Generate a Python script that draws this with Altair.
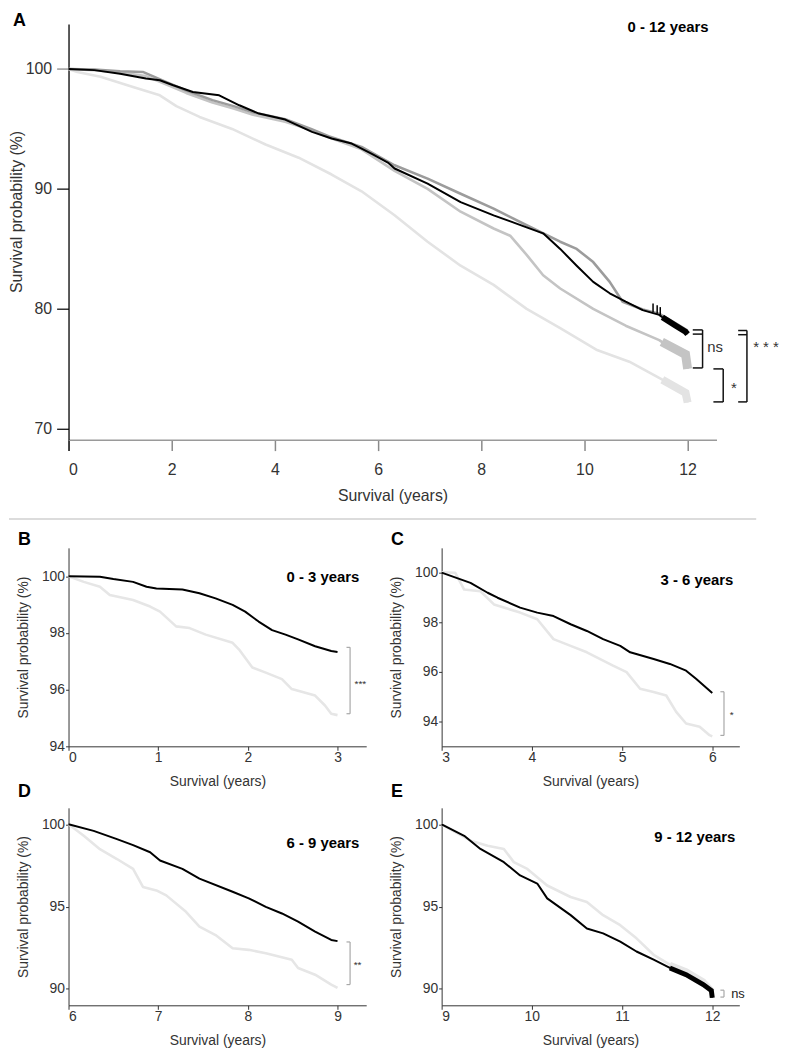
import altair as alt
import pandas as pd

FONT = "Liberation Sans"
TXT = "#333333"

# ---------------- data ----------------
# Panel A, 0-12 years, four groups
a_black_t = [0, 0.5, 1.0, 1.5, 1.77, 2.03, 2.41, 2.92, 3.31, 3.69, 4.2, 4.72, 5.1, 5.49, 5.87, 6.19,
             6.32, 6.96, 7.6, 8.24, 8.88, 9.2, 9.53, 9.85, 10.17, 10.49, 10.8, 11.13, 11.45, 11.51,
             11.77, 11.96, 12.0]
a_black_v = [100, 99.9, 99.6, 99.2, 99.06, 98.64, 98.08, 97.8, 96.97, 96.28, 95.78, 94.75, 94.2, 93.78,
             92.94, 92.2, 91.7, 90.44, 88.9, 87.8, 86.8, 86.3, 85.0, 83.6, 82.25, 81.3, 80.6, 79.9,
             79.5, 79.3, 78.6, 78.1, 77.9]

a_dark_t = [0, 0.5, 1.0, 1.44, 1.9, 2.28, 2.79, 3.2, 3.56, 4.2, 4.7, 5.04, 5.68, 6.32, 6.96, 7.6,
            8.24, 8.88, 9.53, 9.85, 10.17, 10.49, 10.74, 11.13, 11.45, 11.51, 11.77, 12.0]
a_dark_v = [100, 99.95, 99.8, 99.75, 98.9, 98.2, 97.4, 96.9, 96.4, 95.8, 95.0, 94.4, 93.5, 91.97,
            90.86, 89.6, 88.36, 86.97, 85.6, 85.0, 83.9, 82.25, 80.6, 79.95, 79.6, 79.45, 78.8, 78.2]

a_mid_t = [0, 0.5, 1.0, 1.5, 1.9, 2.28, 2.79, 3.2, 3.56, 4.2, 4.7, 5.04, 5.68, 6.32, 6.96, 7.6,
           8.24, 8.56, 8.88, 9.2, 9.53, 10.17, 10.8, 11.45, 11.5, 11.96, 12.0]
a_mid_v = [100, 99.9, 99.7, 99.4, 98.7, 98.0, 97.2, 96.7, 96.2, 95.6, 94.9, 94.3, 93.3, 91.5, 90.0,
           88.1, 86.7, 86.1, 84.5, 82.8, 81.7, 80.0, 78.6, 77.4, 77.25, 76.2, 75.0]

a_light_t = [0, 0.17, 0.62, 1.25, 1.77, 2.09, 2.54, 3.17, 3.82, 4.46, 5.1, 5.68, 6.32, 6.96, 7.6,
             8.24, 8.88, 9.53, 10.23, 10.87, 11.51, 11.96, 12.0]
a_light_v = [100, 99.75, 99.35, 98.5, 97.8, 96.9, 96.0, 95.0, 93.7, 92.6, 91.2, 89.8, 87.8, 85.6,
             83.6, 82.0, 80.0, 78.4, 76.6, 75.6, 74.1, 73.0, 72.2]

a_censor_t = [11.33, 11.41, 11.47]
a_censor_v = [79.75, 79.6, 79.45]

# Panel B, 0-3 years
b_black_t = [0, 0.35, 0.5, 0.72, 0.87, 0.98, 1.27, 1.46, 1.64, 1.83, 1.97, 2.12, 2.27, 2.42, 2.56,
             2.75, 2.93, 3.0]
b_black_v = [100, 99.98, 99.9, 99.8, 99.63, 99.57, 99.53, 99.4, 99.22, 98.99, 98.75, 98.4, 98.1,
             97.94, 97.77, 97.53, 97.36, 97.33]
b_light_t = [0, 0.17, 0.35, 0.46, 0.72, 0.91, 1.02, 1.2, 1.35, 1.53, 1.83, 1.9, 2.05, 2.2, 2.38,
             2.49, 2.75, 2.86, 2.93, 3.0]
b_light_v = [100, 99.8, 99.63, 99.34, 99.16, 98.93, 98.75, 98.23, 98.17, 97.94, 97.65, 97.42, 96.78,
             96.6, 96.37, 96.02, 95.79, 95.44, 95.15, 95.1]

# Panel C, 3-6 years
c_black_t = [3, 3.32, 3.51, 3.62, 3.87, 4.06, 4.24, 4.43, 4.61, 4.79, 4.98, 5.09, 5.35, 5.53, 5.71,
             5.82, 6.0]
c_black_v = [100, 99.59, 99.19, 98.99, 98.59, 98.39, 98.25, 97.92, 97.65, 97.32, 97.05, 96.79, 96.52,
             96.32, 96.05, 95.72, 95.15]
c_light_t = [3, 3.15, 3.25, 3.43, 3.58, 3.87, 4.06, 4.24, 4.43, 4.61, 4.9, 5.05, 5.2, 5.35, 5.49,
             5.6, 5.71, 5.86, 5.97, 6.0]
c_light_v = [100.02, 100.0, 99.32, 99.25, 98.72, 98.39, 98.12, 97.32, 97.05, 96.79, 96.25, 95.99,
             95.32, 95.19, 95.05, 94.39, 93.92, 93.79, 93.45, 93.4]

# Panel D, 6-9 years
d_black_t = [6, 6.28, 6.54, 6.72, 6.91, 7.02, 7.27, 7.46, 7.83, 8.01, 8.2, 8.38, 8.56, 8.75, 8.93, 9.0]
d_black_v = [100, 99.6, 99.1, 98.73, 98.3, 97.8, 97.29, 96.7, 95.9, 95.5, 94.98, 94.58, 94.08, 93.48,
             92.97, 92.9]
d_light_t = [6, 6.17, 6.35, 6.54, 6.72, 6.83, 6.98, 7.09, 7.31, 7.46, 7.64, 7.83, 8.01, 8.2, 8.49,
             8.56, 8.75, 8.93, 9.0]
d_light_v = [100, 99.3, 98.49, 97.89, 97.29, 96.19, 95.98, 95.68, 94.68, 93.78, 93.27, 92.47, 92.37,
             92.17, 91.77, 91.27, 90.86, 90.26, 90.06]

# Panel E, 9-12 years
e_black_t = [9, 9.25, 9.43, 9.69, 9.87, 10.06, 10.17, 10.43, 10.61, 10.79, 10.98, 11.16, 11.35, 11.53,
             11.71, 11.9, 11.99, 12.0]
e_black_v = [100, 99.3, 98.5, 97.7, 96.89, 96.4, 95.5, 94.48, 93.67, 93.37, 92.87, 92.27, 91.77,
             91.27, 90.86, 90.26, 89.9, 89.46]
e_light_t = [9, 9.32, 9.51, 9.69, 9.8, 9.95, 10.17, 10.43, 10.61, 10.79, 10.98, 11.16, 11.35, 11.53,
             11.71, 11.9, 12.0]
e_light_v = [100, 99.0, 98.7, 98.5, 97.7, 97.29, 96.28, 95.58, 95.28, 94.48, 93.87, 93.07, 92.07,
             91.47, 91.07, 90.46, 89.86]

# significance brackets (data units) and labels
a_br = dict(t=[12.29, 12.1, 12.1, 12.1, 12.69, 12.5, 12.5, 13.15, 12.98, 12.98, 12.98],
            t2=[12.29, 12.29, 12.29, 12.29, 12.69, 12.69, 12.69, 13.15, 13.15, 13.15, 13.15],
            v=[78.25, 78.25, 77.9, 75.08, 75.0, 75.0, 72.25, 78.2, 78.2, 77.85, 72.25],
            v2=[75.08, 78.25, 77.9, 75.08, 72.25, 75.0, 72.25, 72.25, 78.2, 77.85, 72.25])
a_sig = dict(t=[12.38, 12.84, 13.27], v=[76.8, 73.4, 76.85], s=["ns", "*", "* * *"])

b_br = dict(t=[3.14, 3.1, 3.1], t2=[3.14, 3.14, 3.14], v=[97.49, 97.49, 95.15], v2=[95.15, 97.49, 95.15])
b_sig = dict(t=[3.19], v=[96.2], s=["***"])
c_br = dict(t=[6.13, 6.09, 6.09], t2=[6.13, 6.13, 6.13], v=[95.2, 95.2, 93.44], v2=[93.44, 95.2, 93.44])
c_sig = dict(t=[6.195], v=[94.28], s=["*"])
d_br = dict(t=[9.14, 9.1, 9.1], t2=[9.14, 9.14, 9.14], v=[92.85, 92.85, 90.26], v2=[90.26, 92.85, 90.26])
d_sig = dict(t=[9.18], v=[91.46], s=["**"])
e_br = dict(t=[12.13, 12.09, 12.09], t2=[12.13, 12.13, 12.13], v=[89.92, 89.92, 89.5], v2=[89.5, 89.92, 89.5])
e_sig = dict(t=[12.21], v=[89.7], s=["ns"])


# ---------------- helpers ----------------
def enc(xdom, ydom, xaxis, yaxis):
    x = alt.X("t:Q", scale=alt.Scale(domain=xdom, nice=False, zero=False), axis=xaxis)
    y = alt.Y("v:Q", scale=alt.Scale(domain=ydom, nice=False, zero=False), axis=yaxis)
    return x, y


def curve_layers(t, v, color, width, band_from=None, band_width=None, x=None, y=None):
    df = pd.DataFrame({"t": t, "v": v})
    base = alt.Chart(df).encode(x=x, y=y)
    out = [base.mark_line(color=color, strokeWidth=width, strokeJoin="round")]
    if band_from is not None:
        out.append(base.transform_filter(alt.datum.t >= band_from)
                   .mark_line(color=color, strokeWidth=band_width, strokeCap="butt"))
    return out


def bracket_layer(br, color, width, x, y):
    df = pd.DataFrame(br)
    return alt.Chart(df).mark_rule(color=color, strokeWidth=width).encode(
        x=x, x2=alt.X2("t2:Q"), y=y, y2=alt.Y2("v2:Q"))


def sig_layer(sig, size, x, y, color=TXT, weight="normal"):
    df = pd.DataFrame(sig)
    return alt.Chart(df).mark_text(align="left", baseline="middle", fontSize=size, font=FONT,
                                   color=color, fontWeight=weight).encode(x=x, y=y, text="s:N")


def pix_text(txt, px, py, size, align="left", weight="bold", baseline="alphabetic"):
    return alt.Chart(pd.DataFrame({"s": [txt]})).mark_text(
        align=align, baseline=baseline, fontSize=size, fontWeight=weight, font=FONT,
        color="#000000").encode(text="s:N", x=alt.value(px), y=alt.value(py))


# ---------------- panel A ----------------
xA_axis = alt.Axis(values=[0, 2, 4, 6, 8, 10, 12], title="Survival (years)", grid=False,
                   domainColor="#9a9a9a", domainWidth=1.5,
                   tickColor={"condition": {"test": "datum.value === 0", "value": "#000000"},
                              "value": "#8a8a8a"},
                   tickWidth=1.5, tickSize=11, labelFontSize=16, labelPadding=11, labelColor=TXT,
                   labelFont=FONT, titleFont=FONT, titleFontSize=16, titleFontWeight="normal",
                   titleColor=TXT, titleY=61, titleBaseline="alphabetic")
yA_axis = alt.Axis(values=[70, 80, 90, 100], title="Survival probability (%)", grid=False,
                   domainColor="#000000", domainWidth=1.3,
                   tickColor={"condition": {"test": "datum.value === 100", "value": "#8a8a8a"},
                              "value": "#111111"},
                   tickWidth=1.3, tickSize=12, labelFontSize=16, labelPadding=5, labelColor=TXT,
                   labelFont=FONT, titleFont=FONT, titleFontSize=16, titleFontWeight="normal",
                   titleColor=TXT, titleX=-52, titleY=189, titleBaseline="middle")
xA, yA = enc([0, 12.56], [69.1, 103.75], xA_axis, yA_axis)

a_layers = []
a_layers += curve_layers(a_light_t, a_light_v, "#e3e3e3", 2.6, 11.5, 8, xA, yA)
a_layers += curve_layers(a_mid_t, a_mid_v, "#c4c4c4", 2.6, 11.5, 9, xA, yA)
a_layers += curve_layers(a_dark_t, a_dark_v, "#9c9c9c", 2.6, None, None, xA, yA)
a_layers += curve_layers(a_black_t, a_black_v, "#000000", 2.0, 11.5, 6, xA, yA)
a_cens = alt.Chart(pd.DataFrame({"t": a_censor_t, "v": a_censor_v})).transform_calculate(
    v2="datum.v + 0.7").mark_rule(color="#000000", strokeWidth=1.5).encode(x=xA, y=yA, y2=alt.Y2("v2:Q"))
a_layers.append(a_cens)
a_layers.append(bracket_layer(a_br, "#111111", 1.5, xA, yA))
a_layers.append(sig_layer(a_sig, 15, xA, yA))
a_layers.append(pix_text("A", -56, -12, 18, baseline="top"))
a_layers.append(pix_text("0 - 12 years", 645, 8.5, 15, align="right"))
a_layers.append(alt.Chart(pd.DataFrame({"k": [0]})).mark_rule(color="#d0d0d0", strokeWidth=1.5).encode(
    x=alt.value(-60), x2=alt.value(693), y=alt.value(499)))

panelA = alt.layer(*a_layers).properties(width=653, height=419)


# ---------------- small panels ----------------
def small_axes(xvals, yvals):
    xa = alt.Axis(values=xvals, title="Survival (years)", grid=False, domainColor="#333333",
                  tickColor="#333333", tickSize=4, labelFontSize=14, labelPadding=0, labelColor=TXT,
                  labelFont=FONT, titleFont=FONT, titleFontSize=14, titleFontWeight="normal",
                  titleColor=TXT, titleY=39, titleBaseline="alphabetic")
    ya = alt.Axis(values=yvals, title="Survival probability (%)", grid=False, domainColor="#333333",
                  tickColor="#333333", tickSize=3, labelFontSize=14, labelPadding=1, labelColor=TXT,
                  labelFont=FONT, titleFont=FONT, titleFontSize=14, titleFontWeight="normal",
                  titleColor=TXT, titleX=-45, titleBaseline="middle")
    return xa, ya


def small_panel(letter, letter_y, sub, sub_x, sub_y, xdom, ydom, xvals, yvals, bt, bv, lt, lv,
                br, sig, sig_size, sig_color, sig_weight, w, h, band=None):
    xa, ya = small_axes(xvals, yvals)
    x, y = enc(xdom, ydom, xa, ya)
    layers = []
    layers += curve_layers(lt, lv, "#e6e6e6", 2.6, band, 6, x, y)
    layers += curve_layers(bt, bv, "#000000", 2.0, band, 5, x, y)
    layers.append(bracket_layer(br, "#a8a8a8", 1.2, x, y))
    layers.append(sig_layer(sig, sig_size, x, y, sig_color, sig_weight))
    layers.append(pix_text(letter, -51, letter_y, 18))
    layers.append(pix_text(sub, sub_x, sub_y, 15, align="right"))
    return alt.layer(*layers).properties(width=w, height=h)


panelB = small_panel("B", -3, "0 - 3 years", 293, 34.5, [0, 3.32], [94, 101], [0, 1, 2, 3],
                     [94, 96, 98, 100], b_black_t, b_black_v, b_light_t, b_light_v, b_br, b_sig,
                     10, TXT, "normal", 300, 200)
panelC = small_panel("C", -2.5, "3 - 6 years", 294, 37.5, [3, 6.3], [93, 101], [3, 4, 5, 6],
                     [94, 96, 98, 100], c_black_t, c_black_v, c_light_t, c_light_v, c_br, c_sig,
                     10, TXT, "normal", 300, 200)
panelD = small_panel("D", -10.7, "6 - 9 years", 293, 40.5, [6, 9.32], [89, 101], [6, 7, 8, 9],
                     [90, 95, 100], d_black_t, d_black_v, d_light_t, d_light_v, d_br, d_sig,
                     10, TXT, "normal", 300, 199)
panelE = small_panel("E", -10.7, "9 - 12 years", 296, 34.5, [9, 12.3], [89, 101], [9, 10, 11, 12],
                     [90, 95, 100], e_black_t, e_black_v, e_light_t, e_light_v, e_br, e_sig,
                     13, "#222222", "normal", 300, 199, band=11.5)

grid = alt.concat(panelB, panelC, panelD, panelE, columns=2,
                  spacing={"row": 62, "column": 76}, bounds="flush")

chart = alt.vconcat(panelA, grid, spacing=109, bounds="flush").properties(
    padding={"left": 0, "top": 0, "right": 2, "bottom": 0}
).configure(font=FONT).configure_view(stroke=None)

chart.save("out.html", embed_options={"renderer": "svg", "actions": False})
